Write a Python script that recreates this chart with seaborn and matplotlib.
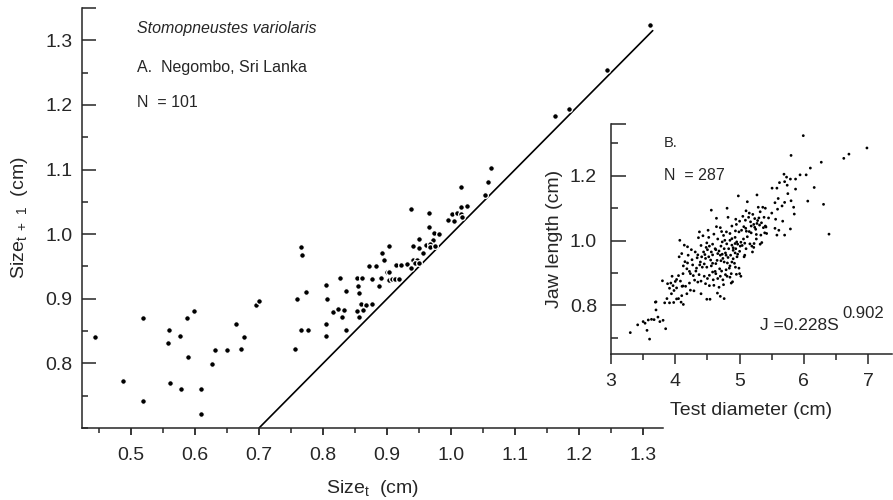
import matplotlib
matplotlib.use("Agg")
import matplotlib.pyplot as plt
import seaborn as sns
import pandas as pd
from matplotlib.ticker import FixedLocator, MultipleLocator

# ---------------- data: panel A (size_t vs size_t+1) ----------------
size_t = [
    0.443, 0.4875, 0.519, 0.519, 0.560, 0.558, 0.561, 0.576, 0.5875, 0.589,
    0.578, 0.598, 0.609, 0.609, 0.626, 0.631, 0.6495, 0.6645, 0.6766, 0.672,
    0.695, 0.6995,
    0.766, 0.7677, 0.773, 0.759, 0.765, 0.776, 0.756, 0.804, 0.806, 0.805,
    0.805, 0.826, 0.836, 0.8156, 0.824, 0.832, 0.830, 0.836, 0.8526, 0.8605,
    0.854, 0.856, 0.8536, 0.859, 0.8667, 0.863, 0.8567, 0.876, 0.8724, 0.883,
    0.877, 0.8906, 0.888, 0.8927, 0.895, 0.9005, 0.9036, 0.9036, 0.9036,
    0.908, 0.913, 0.918, 0.9136, 0.9214, 0.9307, 0.937, 0.9375,
    0.941, 0.946, 0.944, 0.950, 0.941, 0.9495, 0.9495, 0.956, 0.961, 0.965,
    0.965, 0.973, 0.981, 0.9714, 0.9677, 0.967, 0.9755, 0.995, 1.0016, 1.009,
    1.0156, 1.005, 1.015, 1.025, 1.0156, 1.0177, 1.0527, 1.058, 1.062,
    1.163, 1.184, 1.243, 1.310,
]
size_t1 = [
    0.841, 0.773, 0.870, 0.742, 0.851, 0.831, 0.770, 0.842, 0.870, 0.810,
    0.761, 0.881, 0.760, 0.722, 0.7995, 0.821, 0.8205, 0.861, 0.841, 0.822,
    0.891, 0.896,
    0.9795, 0.968, 0.911, 0.900, 0.851, 0.851, 0.8216, 0.921, 0.900, 0.8607,
    0.8417, 0.9317, 0.9116, 0.880, 0.884, 0.882, 0.8725, 0.851, 0.9317, 0.9317,
    0.920, 0.9096, 0.8818, 0.8915, 0.890, 0.882, 0.8725, 0.892, 0.950, 0.950,
    0.9307, 0.9322, 0.920, 0.9713, 0.9594, 0.941, 0.941, 0.9296, 0.981,
    0.930, 0.930, 0.930, 0.9526, 0.9526, 0.9534, 1.039, 0.9477,
    0.960, 0.960, 0.955, 0.955, 0.981, 0.978, 0.9924, 0.971, 0.983, 1.011,
    1.032, 1.002, 1.0006, 0.991, 0.985, 0.980, 0.981, 1.022, 1.0315, 1.0326,
    1.0315, 1.021, 1.0414, 1.0428, 1.0727, 1.027, 1.0608, 1.081, 1.1025,
    1.183, 1.194, 1.254, 1.3236,
]
line_x = [0.70, 1.315]
line_y = [0.70, 1.315]

# ---------------- data: panel B (test diameter vs jaw length) ----------------
test_diam = [
    5.99, 5.80, 6.98, 6.70, 6.62, 6.27, 6.10, 6.035, 5.94, 5.87,
    5.69, 5.73, 5.79, 5.70, 5.62, 5.58, 5.505, 5.74, 5.87, 6.16,
    6.06, 6.305, 6.39, 5.80, 5.85, 5.27, 5.12, 4.98, 4.56, 4.805,
    5.10, 5.29, 5.36, 5.32, 5.205, 5.235, 5.30, 5.38, 5.40, 5.41,
    5.55, 5.66, 5.70, 5.59, 5.56, 5.67, 5.55, 5.61, 5.79, 5.58,
    5.70, 5.84, 4.64, 4.82, 4.94, 5.00, 5.09, 5.14, 5.17, 5.065,
    5.095, 5.03, 5.105, 5.235, 5.27, 5.18, 5.26, 5.33, 5.39, 5.42,
    5.345, 5.32, 5.225, 5.19, 5.22, 4.375, 4.43, 4.36, 4.51, 4.64,
    4.72, 4.75, 4.795, 4.85, 4.935, 4.99, 4.88, 4.85, 4.77, 4.73,
    4.66, 4.58, 4.53, 4.49, 4.48, 4.56, 4.63, 4.71, 4.76, 4.83,
    4.88, 4.93, 4.955, 4.97, 5.01, 4.90, 4.93, 5.00, 5.07, 4.96,
    4.90, 4.79, 4.73, 4.66, 4.58, 4.52, 4.46, 4.41, 4.35, 4.31,
    4.25, 4.19, 4.14, 4.07, 4.06, 4.125, 4.19, 4.26, 4.34, 4.39,
    4.45, 4.49, 4.56, 4.63, 4.65, 4.71, 4.76, 4.81, 4.85, 4.88,
    4.935, 4.99, 5.00, 5.02, 4.95, 4.87, 4.85, 4.87, 4.79, 4.72,
    4.69, 4.63, 4.58, 4.53, 4.50, 4.59, 4.66, 4.74, 4.805, 4.89,
    4.75, 4.68, 4.60, 4.53, 4.47, 4.40, 4.37, 4.32, 4.28, 4.235,
    4.18, 4.12, 4.05, 4.00, 3.93, 3.88, 3.965, 4.02, 4.105, 4.16,
    4.22, 4.30, 4.35, 4.29, 4.235, 4.18, 4.10, 4.05, 4.09, 4.125,
    4.02, 3.975, 3.91, 3.835, 3.87, 3.94, 3.98, 3.91, 3.80, 3.70,
    4.40, 4.49, 4.54, 4.655, 4.70, 4.76, 3.30, 3.415, 3.50, 3.53,
    3.56, 3.60, 3.58, 3.63, 3.67, 3.73, 3.70, 3.76, 3.81, 3.85,
    3.69, 4.62, 4.68, 4.70, 4.74, 4.78, 4.82, 4.86, 4.90, 4.94,
    4.97, 5.02, 5.04, 5.06, 5.08, 5.12, 5.15, 5.18, 5.22, 5.25,
    5.28, 5.31, 5.34, 5.37, 4.44, 4.47, 4.50, 4.55, 4.58, 4.42,
    4.38, 4.33, 4.27, 4.22, 4.15, 4.10, 4.20, 4.52, 4.60, 4.70,
    4.88, 4.95, 5.05, 5.15, 5.45, 5.50, 4.80, 4.93, 5.10, 5.16,
    4.40, 3.95, 4.02, 4.08, 4.12, 4.45, 4.62, 4.70, 4.78, 4.84,
    4.92, 5.08, 5.20, 5.26, 5.40, 5.60, 5.75,
]
jaw_length = [
    1.324, 1.263, 1.286, 1.267, 1.254, 1.242, 1.224, 1.203, 1.203, 1.190,
    1.205, 1.196, 1.190, 1.182, 1.179, 1.162, 1.162, 1.171, 1.159, 1.164,
    1.122, 1.112, 1.020, 1.123, 1.082, 1.141, 1.120, 1.138, 1.094, 1.100,
    1.092, 1.103, 1.103, 1.089, 1.081, 1.068, 1.070, 1.072, 1.045, 1.042,
    1.117, 1.107, 1.118, 1.097, 1.066, 1.060, 1.038, 1.032, 1.036, 1.017,
    1.017, 1.103, 1.069, 1.072, 1.066, 1.060, 1.063, 1.072, 1.058, 1.043,
    1.038, 1.032, 1.029, 1.041, 1.053, 1.024, 1.019, 1.017, 1.024, 1.022,
    0.994, 0.989, 0.991, 0.983, 0.979, 1.027, 1.015, 1.009, 1.032, 1.043,
    1.028, 1.016, 1.027, 1.022, 1.030, 1.027, 1.006, 1.001, 1.001, 0.996,
    1.005, 0.989, 0.983, 0.993, 0.979, 0.965, 0.972, 0.983, 0.975, 0.975,
    0.986, 0.991, 0.996, 0.989, 0.983, 0.970, 0.962, 0.967, 0.950, 0.950,
    0.944, 0.955, 0.958, 0.960, 0.956, 0.950, 0.957, 0.950, 0.956, 0.965,
    0.972, 0.981, 0.986, 1.001, 0.950, 0.922, 0.931, 0.941, 0.947, 0.934,
    0.928, 0.918, 0.922, 0.929, 0.939, 0.938, 0.934, 0.931, 0.922, 0.934,
    0.918, 0.915, 0.898, 0.890, 0.896, 0.898, 0.887, 0.869, 0.910, 0.906,
    0.913, 0.898, 0.903, 0.893, 0.883, 0.879, 0.883, 0.879, 0.890, 0.873,
    0.864, 0.856, 0.862, 0.861, 0.867, 0.875, 0.895, 0.906, 0.892, 0.898,
    0.913, 0.898, 0.892, 0.874, 0.869, 0.867, 0.861, 0.854, 0.859, 0.859,
    0.869, 0.878, 0.872, 0.845, 0.847, 0.836, 0.830, 0.821, 0.810, 0.803,
    0.820, 0.809, 0.808, 0.808, 0.821, 0.836, 0.846, 0.853, 0.876, 0.811,
    0.836, 0.819, 0.819, 0.838, 0.828, 0.821, 0.716, 0.740, 0.750, 0.745,
    0.723, 0.696, 0.755, 0.757, 0.756, 0.764, 0.786, 0.750, 0.754, 0.728,
    0.810, 0.975, 0.968, 0.955, 0.945, 0.962, 0.948, 0.955, 0.978, 0.975,
    0.958, 0.995, 0.985, 1.005, 0.992, 1.012, 1.028, 1.045, 1.050, 1.035,
    1.062, 1.048, 1.055, 1.040, 0.965, 0.945, 0.972, 0.940, 0.930, 0.918,
    0.925, 0.915, 0.925, 0.905, 0.935, 0.960, 0.955, 1.010, 1.020, 1.040,
    1.045, 1.050, 1.075, 1.085, 1.070, 1.085, 0.990, 1.010, 0.975, 0.990,
    0.985, 0.890, 0.880, 0.875, 0.860, 0.890, 0.905, 0.890, 0.895, 0.915,
    0.930, 0.955, 0.965, 1.005, 1.100, 1.130, 1.145,
]

main_xticks = [0.5, 0.6, 0.7, 0.8, 0.9, 1.0, 1.1, 1.2, 1.3]
main_yticks = [0.8, 0.9, 1.0, 1.1, 1.2, 1.3]
inset_xticks = [3, 4, 5, 6, 7]
inset_yticks = [0.8, 1.0, 1.2]

df_a = pd.DataFrame({"size_t": size_t, "size_t1": size_t1})
df_b = pd.DataFrame({"diam": test_diam, "jaw": jaw_length})
df_line = pd.DataFrame({"x": line_x, "y": line_y})

# ---------------- styling ----------------
sns.set_theme(style="ticks")
plt.rcParams["font.family"] = ["Liberation Sans", "DejaVu Sans"]
plt.rcParams["mathtext.default"] = "regular"
plt.rcParams["axes.linewidth"] = 1.1

TICK_FS = 14

fig = plt.figure(figsize=(8.93, 5.0), dpi=100)
ax = fig.add_axes([0.0918, 0.144, 0.6506, 0.84])

sns.lineplot(data=df_line, x="x", y="y", ax=ax, color="black", lw=1.2, zorder=2)
sns.scatterplot(data=df_a, x="size_t", y="size_t1", ax=ax, color="black",
                s=17, edgecolor="white", linewidth=0.9, zorder=3)

ax.set_xlim(0.4234, 1.331)
ax.set_ylim(0.70, 1.35)
for s in ["top", "right"]:
    ax.spines[s].set_visible(False)
ax.xaxis.set_major_locator(FixedLocator(main_xticks))
ax.set_xticklabels([f"{v:.1f}" for v in main_xticks])
ax.xaxis.set_minor_locator(MultipleLocator(0.05))
ax.yaxis.set_major_locator(FixedLocator(main_yticks + [1.35]))
ax.set_yticklabels([f"{v:.1f}" for v in main_yticks] + [""])
ax.yaxis.set_minor_locator(MultipleLocator(0.05))
ax.tick_params(axis="x", which="major", direction="out", length=5, width=1.1,
               labelsize=TICK_FS, pad=9, color="black")
ax.tick_params(axis="x", which="minor", direction="out", length=3.5, width=1.1)
ax.tick_params(axis="y", which="major", direction="in", length=10, width=1.1,
               labelsize=TICK_FS, pad=7)
ax.tick_params(axis="y", which="minor", direction="in", length=4.5, width=1.1)
ax.set_xlabel("Size$_t$  (cm)", fontsize=TICK_FS, labelpad=10)
ax.set_ylabel("Size$_{t\\ +\\ 1}$  (cm)", fontsize=TICK_FS, labelpad=11)

ax.text(0.509, 1.318, "Stomopneustes variolaris", fontsize=11.5,
        style="italic", va="center", ha="left")
ax.text(0.509, 1.258, "A.  Negombo, Sri Lanka", fontsize=11.5,
        va="center", ha="left")
ax.text(0.509, 1.203, "N  = 101", fontsize=11.5, va="center", ha="left")

# ---------------- inset ----------------
ax2 = fig.add_axes([0.6842, 0.292, 0.3147, 0.46])
ax2.patch.set_alpha(0)
sns.scatterplot(data=df_b, x="diam", y="jaw", ax=ax2, color="black",
                s=4, edgecolor="none", linewidth=0)
ax2.set_xlim(3.0, 7.37)
ax2.set_ylim(0.65, 1.36)
for s in ["top", "right"]:
    ax2.spines[s].set_visible(False)
ax2.xaxis.set_major_locator(FixedLocator(inset_xticks))
ax2.set_xticklabels([str(v) for v in inset_xticks])
ax2.xaxis.set_minor_locator(MultipleLocator(0.5))
ax2.yaxis.set_major_locator(FixedLocator(inset_yticks + [1.36]))
ax2.set_yticklabels([f"{v:.1f}" for v in inset_yticks] + [""])
ax2.yaxis.set_minor_locator(FixedLocator([0.7, 0.9, 1.1, 1.3]))
ax2.tick_params(axis="x", which="major", direction="out", length=7, width=1.1,
                labelsize=TICK_FS, pad=7)
ax2.tick_params(axis="x", which="minor", direction="out", length=4, width=1.1)
ax2.tick_params(axis="y", which="major", direction="in", length=11, width=1.1,
                labelsize=TICK_FS, pad=10)
ax2.tick_params(axis="y", which="minor", direction="in", length=5, width=1.1)
ax2.set_xlabel("Test diameter (cm)", fontsize=TICK_FS, labelpad=8)
ax2.set_ylabel("Jaw length (cm)", fontsize=TICK_FS, labelpad=5)

ax2.text(3.825, 1.302, "B.", fontsize=10.5, va="center", ha="left")
ax2.text(3.825, 1.200, "N  = 287", fontsize=11.5, va="center", ha="left")
ax2.text(5.32, 0.738, "J =0.228S", fontsize=12.5, va="center", ha="left")
ax2.text(6.60, 0.774, "0.902", fontsize=12, va="center", ha="left")

fig.savefig("out.png", dpi=100)
